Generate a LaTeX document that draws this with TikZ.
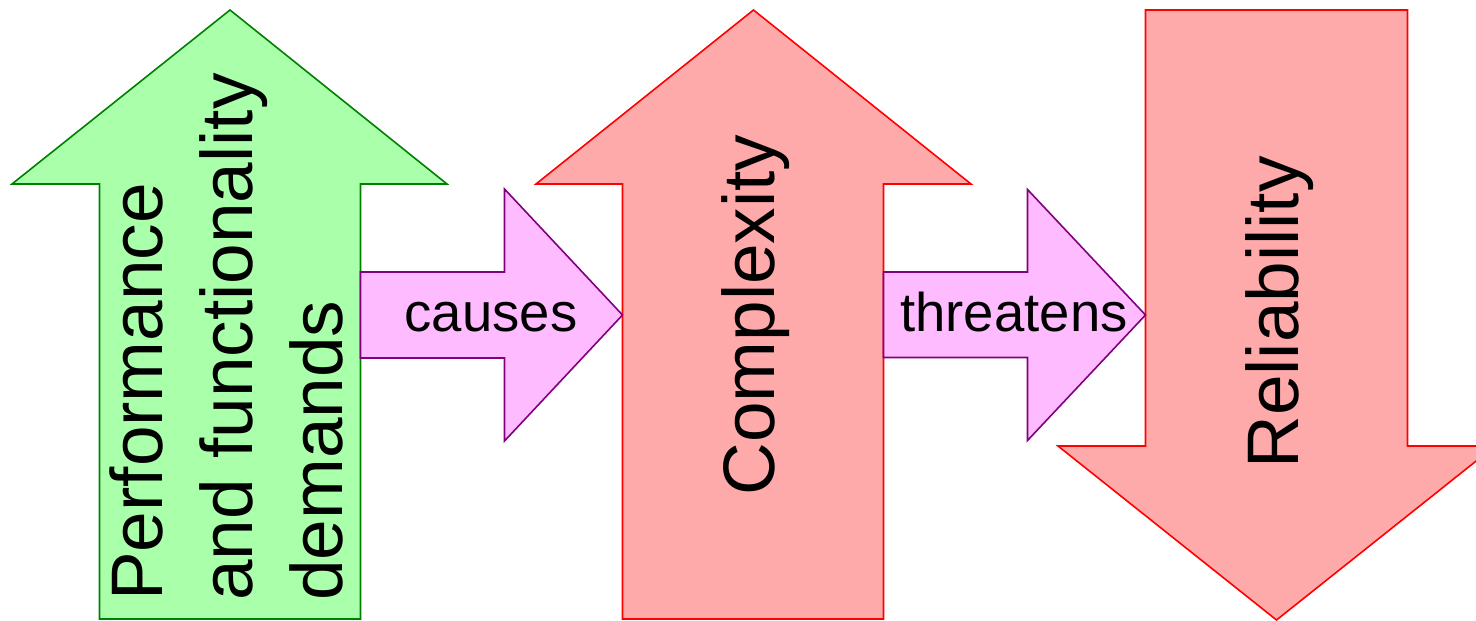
\documentclass[tikz,border=0pt]{standalone}
\usepackage{fontspec}
\setmainfont{Liberation Sans}
\definecolor{gfill}{HTML}{AAFFAA}
\definecolor{gline}{HTML}{008000}
\definecolor{rfill}{HTML}{FFAAAA}
\definecolor{rline}{HTML}{FF0000}
\definecolor{pfill}{HTML}{FFBBFF}
\definecolor{pline}{HTML}{800080}
\tikzset{
  greenarrow/.style={fill=gfill,draw=gline,line width=1.6pt,line join=miter},
  redarrow/.style={fill=rfill,draw=rline,line width=1.6pt,line join=miter},
  pinkarrow/.style={fill=pfill,draw=pline,line width=1.6pt,line join=miter},
  bigtext/.style={inner sep=0pt,rotate=90,font=\fontsize{73}{90}\selectfont},
  smalltext/.style={inner sep=0pt,font=\fontsize{54.5}{65}\selectfont}
}
\begin{document}
\begin{tikzpicture}[x=1pt,y=-1pt]
\clip (0,0) rectangle (1476,621);
% Performance arrow (up, green)
\path[greenarrow] (230,10) -- (447,184) -- (360.5,184) -- (360.5,619) -- (99.5,619) -- (99.5,184) -- (12,184) -- cycle;
% Complexity arrow (up, red)
\path[redarrow] (753.5,10) -- (971,184) -- (883.5,184) -- (883.5,619) -- (622.5,619) -- (622.5,184) -- (536,184) -- cycle;
% Reliability arrow (down, red)
\path[redarrow] (1145.5,10) -- (1407.5,10) -- (1407.5,446) -- (1495,446) -- (1276.5,620) -- (1058,446) -- (1145.5,446) -- cycle;
% causes arrow
\path[pinkarrow] (360.5,272) -- (504.5,272) -- (504.5,189) -- (622.5,315) -- (504.5,441) -- (504.5,358) -- (360.5,358) -- cycle;
% threatens arrow
\path[pinkarrow] (883.5,272) -- (1027.5,272) -- (1027.5,189.5) -- (1145.5,315) -- (1027.5,440.5) -- (1027.5,357.5) -- (883.5,357.5) -- cycle;
% texts
\node[bigtext,align=left,anchor=north west] (perf) at (109,601) {Performance\\and functionality\\demands};
\node[bigtext] (cx) at (755.5,315) {Complexity};
\node[bigtext] (rel) at (1280,312.5) {Reliability};
\node[smalltext,anchor=base] (causes) at (491,331.7) {causes};
\node[smalltext,anchor=base] (threat) at (1014,331.7) {threatens};
\end{tikzpicture}
\end{document}
